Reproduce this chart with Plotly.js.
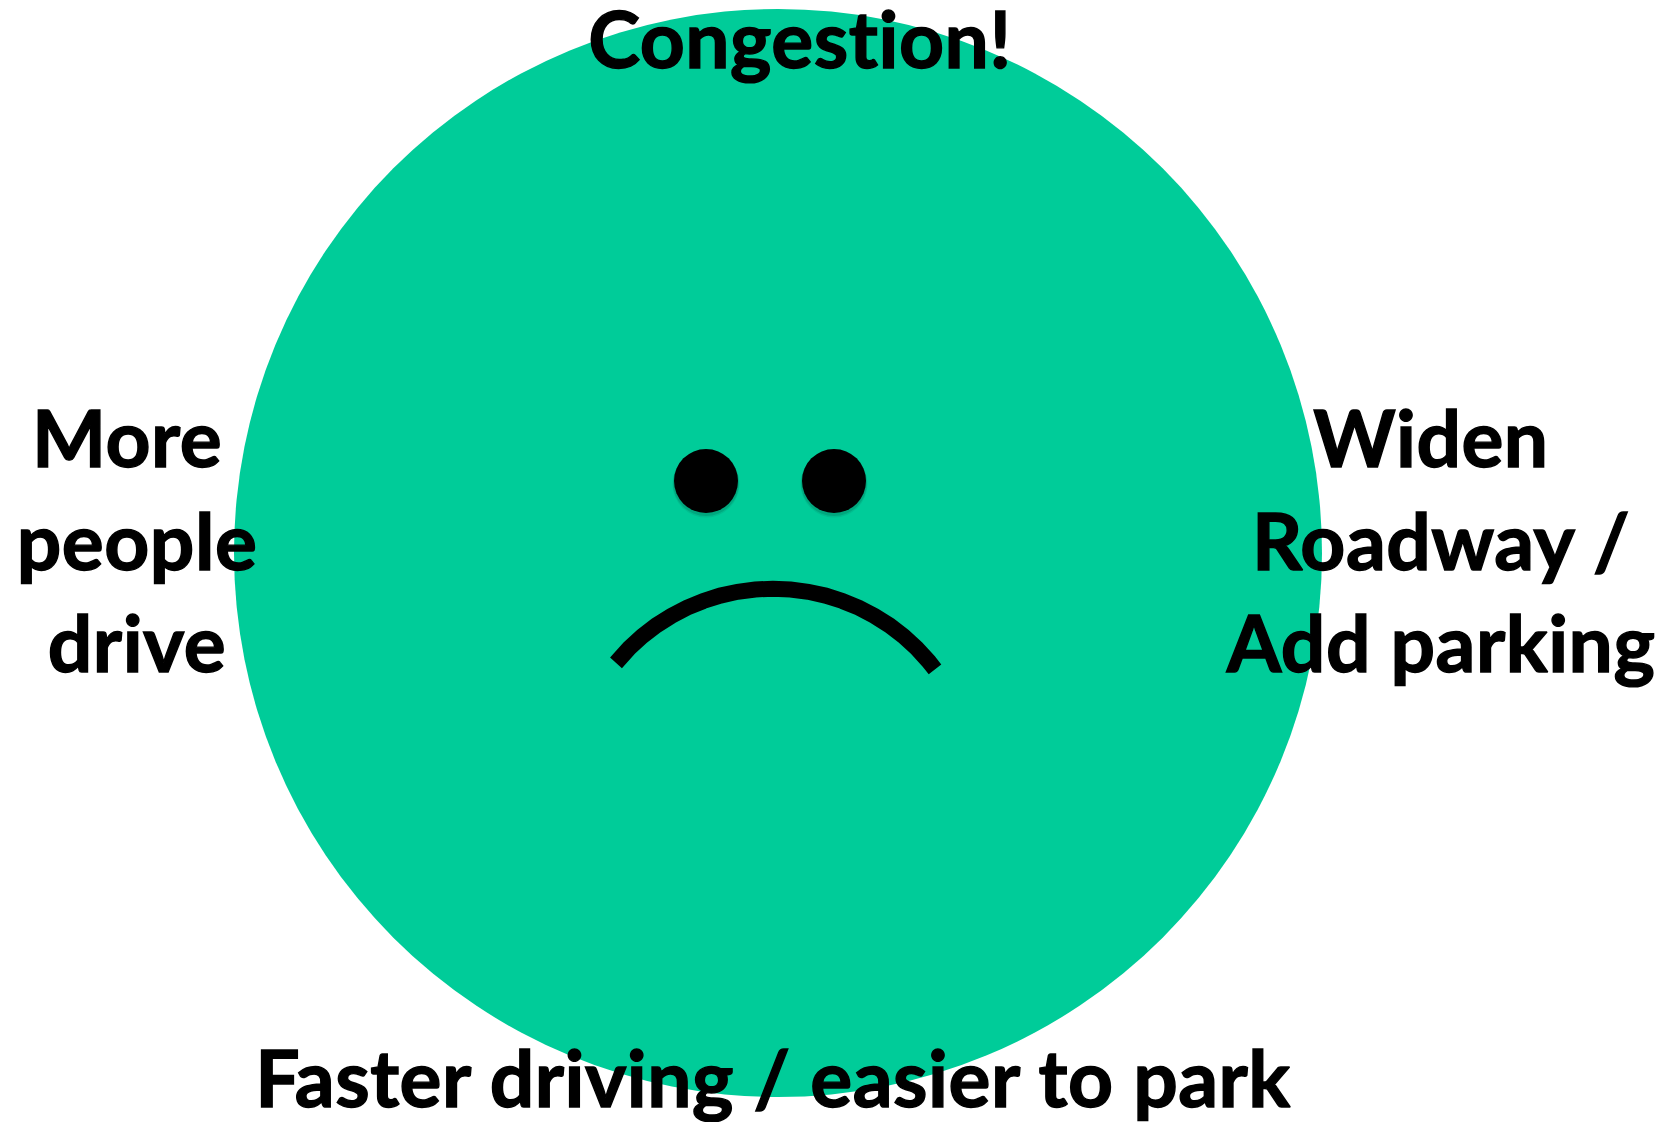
<!DOCTYPE html>
<html>
<head>
<meta charset="utf-8">
<script src="https://cdn.plot.ly/plotly-3.0.1.min.js"></script>
<style>html,body{margin:0;padding:0;background:#fff;overflow:hidden}#chart{width:1665px;height:1122px}
#chart .textpoint text{font-variant-ligatures:none;font-feature-settings:"liga" 0;stroke:#000;stroke-width:1.4px;letter-spacing:0.5px}</style>
</head>
<body>
<div id="chart"></div>
<script>
const faceCenter = [778, 553];
const faceRadius = 544;
const eyeX = [706, 834];
const eyeY = [481, 481];
const eyeRadius = 32;
const mouthX = [616, 629.2, 642.3, 656.3, 671.3, 687, 703.4, 720.3, 737.6, 755.2, 772.9, 790.6, 808.2, 825.5, 842.4, 858.8, 874.5, 889.5, 903.5, 916.6, 928.6, 935];
const mouthY = [662.8, 648.2, 636.2, 625.4, 615.9, 607.7, 601, 595.6, 591.8, 589.5, 588.7, 589.5, 591.8, 595.6, 601, 607.7, 615.9, 625.4, 636.2, 648.2, 661.3, 669.4];
const labels = ["Congestion!", "More", "people", "drive", "Widen", "Roadway /", "Add parking", "Faster driving / easier to park"];
const labelX = [800, 127, 137, 137, 1431, 1441, 1441, 773];
const labelY = [48, 447, 550, 652, 447, 550, 652, 1087];

const circle = (cx, cy, r, fill) => ({type:'circle', layer:'below', xref:'x', yref:'y',
  x0:cx-r, x1:cx+r, y0:cy-r, y1:cy+r, fillcolor:fill, line:{width:0}});

const shapes = [circle(faceCenter[0], faceCenter[1], faceRadius, '#00CC99')];
eyeX.forEach((x,i)=>{
  shapes.push(circle(x, eyeY[i]+3, eyeRadius+1.5, 'rgba(0,90,70,0.12)'));
  shapes.push(circle(x, eyeY[i]+2, eyeRadius+1, 'rgba(0,90,70,0.22)'));
  shapes.push(circle(x, eyeY[i], eyeRadius, '#000000'));
});

const data = [
  {type:'scatter', mode:'lines', x:mouthX, y:mouthY, line:{color:'#000', width:16, shape:'linear', simplify:false}, hoverinfo:'skip', showlegend:false},
  {type:'scatter', mode:'text', x:labelX, y:labelY, text:labels, textposition:'middle center', cliponaxis:false,
   textfont:{family:'Lato, "Open Sans", sans-serif', size:78.5, color:'#000', weight:700}, hoverinfo:'skip', showlegend:false}
];
const hidden = {visible:false, fixedrange:true, autorange:false};
const layout = {
  width:1665, height:1122, margin:{l:0,r:0,t:0,b:0},
  paper_bgcolor:'#fff', plot_bgcolor:'#fff', showlegend:false, hovermode:false,
  xaxis:Object.assign({range:[0,1665]}, hidden),
  yaxis:Object.assign({range:[1122,0]}, hidden),
  shapes
};
Plotly.newPlot('chart', data, layout, {displayModeBar:false, staticPlot:true});
</script>
</body>
</html>
